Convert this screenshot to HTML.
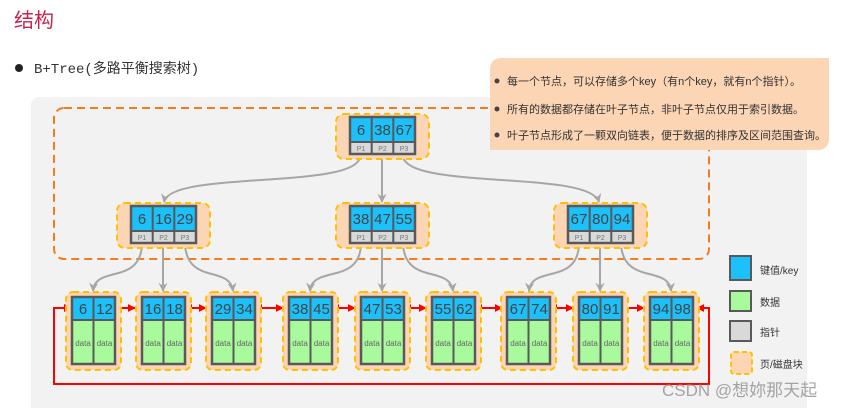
<!DOCTYPE html>
<html><head><meta charset="utf-8"><style>
html,body{margin:0;padding:0;background:#fff;width:847px;height:408px;overflow:hidden}
svg{display:block}
.k{font:15px "Liberation Sans","DejaVu Sans",sans-serif;fill:#444;text-anchor:middle}
.p{font:7px "Liberation Sans",sans-serif;fill:#777;text-anchor:middle}
.d{font:8px "Liberation Sans",sans-serif;fill:#666;text-anchor:middle}
.cn{font:11px "Liberation Sans","Noto Sans CJK SC",sans-serif;fill:#333}
</style></head><body>
<svg width="847" height="408" viewBox="0 0 847 408" xmlns="http://www.w3.org/2000/svg">
<defs>
<marker id="ga" markerWidth="8" markerHeight="8" refX="4" refY="6" orient="auto" markerUnits="userSpaceOnUse"><path d="M0,0 L4,7 L8,0 L4,3 Z" fill="#a6a6a6" transform="rotate(0)"/></marker>
<marker id="g" viewBox="0 0 10 10" refX="9" refY="5" markerWidth="9" markerHeight="9" orient="auto" markerUnits="userSpaceOnUse"><path d="M0,0 L10,5 L0,10 L3,5 Z" fill="#a6a6a6"/></marker>
<marker id="r" viewBox="0 0 10 10" refX="9" refY="5" markerWidth="8" markerHeight="8" orient="auto-start-reverse" markerUnits="userSpaceOnUse"><path d="M0,0 L10,5 L0,10 Z" fill="#ff0000"/></marker>
</defs>
<text x="14" y="27" style="font:20px 'Liberation Sans','Noto Sans CJK SC',sans-serif;fill:#c7254e">结构</text>
<circle cx="19" cy="68" r="4" fill="#222"/>
<text x="34" y="73" style="font:14px 'Liberation Mono','Noto Sans CJK SC',monospace;fill:#333">B+Tree(多路平衡搜索树)</text>
<rect x="31" y="97" width="776" height="320" rx="8" fill="#f2f2f2"/>
<rect x="54" y="108" width="655" height="151" rx="10" fill="none" stroke="#f07d1e" stroke-width="2" stroke-dasharray="8,5"/>
<!-- callout -->
<path d="M502,58 H829 V138 Q829,150 817,150 H490 V70 Q490,58 502,58 Z" fill="#fcd5b4"/>
<circle cx="497" cy="81" r="2.5" fill="#444"/><text class="cn" x="507" y="85">每一个节点，可以存储多个key（有n个key，就有n个指针）。</text>
<circle cx="497" cy="109" r="2.5" fill="#444"/><text class="cn" x="507" y="113">所有的数据都存储在叶子节点，非叶子节点仅用于索引数据。</text>
<circle cx="497" cy="135" r="2.5" fill="#444"/><text class="cn" x="507" y="139">叶子节点形成了一颗双向链表，便于数据的排序及区间范围查询。</text>
<!-- gray connectors -->
<g fill="none" stroke="#a6a6a6" stroke-width="2" marker-end="url(#g)">
<path d="M360,157 C355,190 170,170 164,202"/>
<path d="M382,157 V202"/>
<path d="M403,157 C410,190 590,170 599,202"/>
<path d="M142,245 C140,285 95,265 93,291"/>
<path d="M163,245 V291"/>
<path d="M185,245 C188,285 230,265 233,291"/>
<path d="M361,245 C359,285 312,265 310,291"/>
<path d="M382,245 V291"/>
<path d="M403,245 C406,285 450,265 453,291"/>
<path d="M579,245 C577,285 531,265 529,291"/>
<path d="M600,245 V291"/>
<path d="M621,245 C624,285 669,265 671,291"/>
</g>
<!-- internal nodes -->
<g id="nodes">
<g transform="translate(335,113)">
<rect x="1" y="1" width="93" height="45" rx="8" fill="#fcd5b4" stroke="#ffc000" stroke-width="2" stroke-dasharray="6,4"/>
<rect x="15" y="4" width="65" height="25" fill="#1cc0fa"/><rect x="15" y="29" width="65" height="12" fill="#d9d9d9"/>
<rect x="15" y="4" width="65" height="37" fill="none" stroke="#595959" stroke-width="2.5"/>
<path d="M36.7,4V41M58.3,4V41M15,29H80" stroke="#595959" stroke-width="2"/>
<text class="k" x="26" y="22">6</text><text class="k" x="47.5" y="22">38</text><text class="k" x="69" y="22">67</text>
<text class="p" x="26" y="38">P1</text><text class="p" x="47.5" y="38">P2</text><text class="p" x="69" y="38">P3</text>
</g>
<g transform="translate(116,202)">
<rect x="1" y="1" width="93" height="45" rx="8" fill="#fcd5b4" stroke="#ffc000" stroke-width="2" stroke-dasharray="6,4"/>
<rect x="15" y="4" width="65" height="25" fill="#1cc0fa"/><rect x="15" y="29" width="65" height="12" fill="#d9d9d9"/>
<rect x="15" y="4" width="65" height="37" fill="none" stroke="#595959" stroke-width="2.5"/>
<path d="M36.7,4V41M58.3,4V41M15,29H80" stroke="#595959" stroke-width="2"/>
<text class="k" x="26" y="22">6</text><text class="k" x="47.5" y="22">16</text><text class="k" x="69" y="22">29</text>
<text class="p" x="26" y="38">P1</text><text class="p" x="47.5" y="38">P2</text><text class="p" x="69" y="38">P3</text>
</g>
<g transform="translate(335,202)">
<rect x="1" y="1" width="93" height="45" rx="8" fill="#fcd5b4" stroke="#ffc000" stroke-width="2" stroke-dasharray="6,4"/>
<rect x="15" y="4" width="65" height="25" fill="#1cc0fa"/><rect x="15" y="29" width="65" height="12" fill="#d9d9d9"/>
<rect x="15" y="4" width="65" height="37" fill="none" stroke="#595959" stroke-width="2.5"/>
<path d="M36.7,4V41M58.3,4V41M15,29H80" stroke="#595959" stroke-width="2"/>
<text class="k" x="26" y="22">38</text><text class="k" x="47.5" y="22">47</text><text class="k" x="69" y="22">55</text>
<text class="p" x="26" y="38">P1</text><text class="p" x="47.5" y="38">P2</text><text class="p" x="69" y="38">P3</text>
</g>
<g transform="translate(553,202)">
<rect x="1" y="1" width="93" height="45" rx="8" fill="#fcd5b4" stroke="#ffc000" stroke-width="2" stroke-dasharray="6,4"/>
<rect x="15" y="4" width="65" height="25" fill="#1cc0fa"/><rect x="15" y="29" width="65" height="12" fill="#d9d9d9"/>
<rect x="15" y="4" width="65" height="37" fill="none" stroke="#595959" stroke-width="2.5"/>
<path d="M36.7,4V41M58.3,4V41M15,29H80" stroke="#595959" stroke-width="2"/>
<text class="k" x="26" y="22">67</text><text class="k" x="47.5" y="22">80</text><text class="k" x="69" y="22">94</text>
<text class="p" x="26" y="38">P1</text><text class="p" x="47.5" y="38">P2</text><text class="p" x="69" y="38">P3</text>
</g>
</g>
<!-- red links -->
<g fill="none" stroke="#ff0000" stroke-width="2">
<path d="M72,308 H54 V384 H709 V308 H697" marker-end="url(#r)"/>
<path d="M114,308 H135" marker-start="url(#r)" marker-end="url(#r)"/>
<path d="M185,308 H206" marker-start="url(#r)" marker-end="url(#r)"/>
<path d="M255,308 H283" marker-start="url(#r)" marker-end="url(#r)"/>
<path d="M332,308 H355" marker-start="url(#r)" marker-end="url(#r)"/>
<path d="M404,308 H426" marker-start="url(#r)" marker-end="url(#r)"/>
<path d="M475,308 H502" marker-start="url(#r)" marker-end="url(#r)"/>
<path d="M550,308 H573" marker-start="url(#r)" marker-end="url(#r)"/>
<path d="M621,308 H644" marker-start="url(#r)" marker-end="url(#r)"/>
</g>
<path d="M66,308 L58,304 L58,312 Z" fill="#ff0000" transform="translate(6,0)"/>
<!-- leaves -->
<g transform="translate(65,291)"><rect x="1" y="1" width="55" height="78" rx="7" fill="#fcd5b4" stroke="#ffc000" stroke-width="2" stroke-dasharray="6,4"/><rect x="7" y="6" width="43" height="23" fill="#1cc0fa"/><rect x="7" y="29" width="43" height="44" fill="#a9fa9c"/><rect x="7" y="6" width="43" height="67" fill="none" stroke="#595959" stroke-width="2.5"/><path d="M28.5,6V73M7,29H50" stroke="#595959" stroke-width="2"/><text class="k" x="18" y="23">6</text><text class="k" x="39.5" y="23">12</text><text class="d" x="18" y="55">data</text><text class="d" x="39.5" y="55">data</text></g>
<g transform="translate(135,291)"><rect x="1" y="1" width="55" height="78" rx="7" fill="#fcd5b4" stroke="#ffc000" stroke-width="2" stroke-dasharray="6,4"/><rect x="7" y="6" width="43" height="23" fill="#1cc0fa"/><rect x="7" y="29" width="43" height="44" fill="#a9fa9c"/><rect x="7" y="6" width="43" height="67" fill="none" stroke="#595959" stroke-width="2.5"/><path d="M28.5,6V73M7,29H50" stroke="#595959" stroke-width="2"/><text class="k" x="18" y="23">16</text><text class="k" x="39.5" y="23">18</text><text class="d" x="18" y="55">data</text><text class="d" x="39.5" y="55">data</text></g>
<g transform="translate(205,291)"><rect x="1" y="1" width="55" height="78" rx="7" fill="#fcd5b4" stroke="#ffc000" stroke-width="2" stroke-dasharray="6,4"/><rect x="7" y="6" width="43" height="23" fill="#1cc0fa"/><rect x="7" y="29" width="43" height="44" fill="#a9fa9c"/><rect x="7" y="6" width="43" height="67" fill="none" stroke="#595959" stroke-width="2.5"/><path d="M28.5,6V73M7,29H50" stroke="#595959" stroke-width="2"/><text class="k" x="18" y="23">29</text><text class="k" x="39.5" y="23">34</text><text class="d" x="18" y="55">data</text><text class="d" x="39.5" y="55">data</text></g>
<g transform="translate(282,291)"><rect x="1" y="1" width="55" height="78" rx="7" fill="#fcd5b4" stroke="#ffc000" stroke-width="2" stroke-dasharray="6,4"/><rect x="7" y="6" width="43" height="23" fill="#1cc0fa"/><rect x="7" y="29" width="43" height="44" fill="#a9fa9c"/><rect x="7" y="6" width="43" height="67" fill="none" stroke="#595959" stroke-width="2.5"/><path d="M28.5,6V73M7,29H50" stroke="#595959" stroke-width="2"/><text class="k" x="18" y="23">38</text><text class="k" x="39.5" y="23">45</text><text class="d" x="18" y="55">data</text><text class="d" x="39.5" y="55">data</text></g>
<g transform="translate(354,291)"><rect x="1" y="1" width="55" height="78" rx="7" fill="#fcd5b4" stroke="#ffc000" stroke-width="2" stroke-dasharray="6,4"/><rect x="7" y="6" width="43" height="23" fill="#1cc0fa"/><rect x="7" y="29" width="43" height="44" fill="#a9fa9c"/><rect x="7" y="6" width="43" height="67" fill="none" stroke="#595959" stroke-width="2.5"/><path d="M28.5,6V73M7,29H50" stroke="#595959" stroke-width="2"/><text class="k" x="18" y="23">47</text><text class="k" x="39.5" y="23">53</text><text class="d" x="18" y="55">data</text><text class="d" x="39.5" y="55">data</text></g>
<g transform="translate(425,291)"><rect x="1" y="1" width="55" height="78" rx="7" fill="#fcd5b4" stroke="#ffc000" stroke-width="2" stroke-dasharray="6,4"/><rect x="7" y="6" width="43" height="23" fill="#1cc0fa"/><rect x="7" y="29" width="43" height="44" fill="#a9fa9c"/><rect x="7" y="6" width="43" height="67" fill="none" stroke="#595959" stroke-width="2.5"/><path d="M28.5,6V73M7,29H50" stroke="#595959" stroke-width="2"/><text class="k" x="18" y="23">55</text><text class="k" x="39.5" y="23">62</text><text class="d" x="18" y="55">data</text><text class="d" x="39.5" y="55">data</text></g>
<g transform="translate(500,291)"><rect x="1" y="1" width="55" height="78" rx="7" fill="#fcd5b4" stroke="#ffc000" stroke-width="2" stroke-dasharray="6,4"/><rect x="7" y="6" width="43" height="23" fill="#1cc0fa"/><rect x="7" y="29" width="43" height="44" fill="#a9fa9c"/><rect x="7" y="6" width="43" height="67" fill="none" stroke="#595959" stroke-width="2.5"/><path d="M28.5,6V73M7,29H50" stroke="#595959" stroke-width="2"/><text class="k" x="18" y="23">67</text><text class="k" x="39.5" y="23">74</text><text class="d" x="18" y="55">data</text><text class="d" x="39.5" y="55">data</text></g>
<g transform="translate(572,291)"><rect x="1" y="1" width="55" height="78" rx="7" fill="#fcd5b4" stroke="#ffc000" stroke-width="2" stroke-dasharray="6,4"/><rect x="7" y="6" width="43" height="23" fill="#1cc0fa"/><rect x="7" y="29" width="43" height="44" fill="#a9fa9c"/><rect x="7" y="6" width="43" height="67" fill="none" stroke="#595959" stroke-width="2.5"/><path d="M28.5,6V73M7,29H50" stroke="#595959" stroke-width="2"/><text class="k" x="18" y="23">80</text><text class="k" x="39.5" y="23">91</text><text class="d" x="18" y="55">data</text><text class="d" x="39.5" y="55">data</text></g>
<g transform="translate(643,291)"><rect x="1" y="1" width="55" height="78" rx="7" fill="#fcd5b4" stroke="#ffc000" stroke-width="2" stroke-dasharray="6,4"/><rect x="7" y="6" width="43" height="23" fill="#1cc0fa"/><rect x="7" y="29" width="43" height="44" fill="#a9fa9c"/><rect x="7" y="6" width="43" height="67" fill="none" stroke="#595959" stroke-width="2.5"/><path d="M28.5,6V73M7,29H50" stroke="#595959" stroke-width="2"/><text class="k" x="18" y="23">94</text><text class="k" x="39.5" y="23">98</text><text class="d" x="18" y="55">data</text><text class="d" x="39.5" y="55">data</text></g>
<!-- legend -->
<rect x="730" y="256" width="21" height="24" fill="#1cc0fa" stroke="#595959" stroke-width="2"/>
<rect x="730" y="291" width="21" height="20" fill="#a9fa9c" stroke="#595959" stroke-width="2"/>
<rect x="730" y="321" width="21" height="20" fill="#d9d9d9" stroke="#595959" stroke-width="2"/>
<rect x="731" y="352" width="21" height="22" rx="3" fill="#fcd5b4" stroke="#ffc000" stroke-width="2" stroke-dasharray="5,3"/>
<text class="cn" x="760" y="274" style="font-size:10px">键值/key</text>
<text class="cn" x="760" y="306" style="font-size:10px">数据</text>
<text class="cn" x="760" y="336" style="font-size:10px">指针</text>
<text class="cn" x="760" y="368" style="font-size:10px">页/磁盘块</text>
<text x="662" y="396" style="font:17px 'Liberation Sans','Noto Sans CJK SC',sans-serif;fill:#9a9a9a;fill-opacity:0.9">CSDN @想妳那天起</text>
</svg>
</body></html>
